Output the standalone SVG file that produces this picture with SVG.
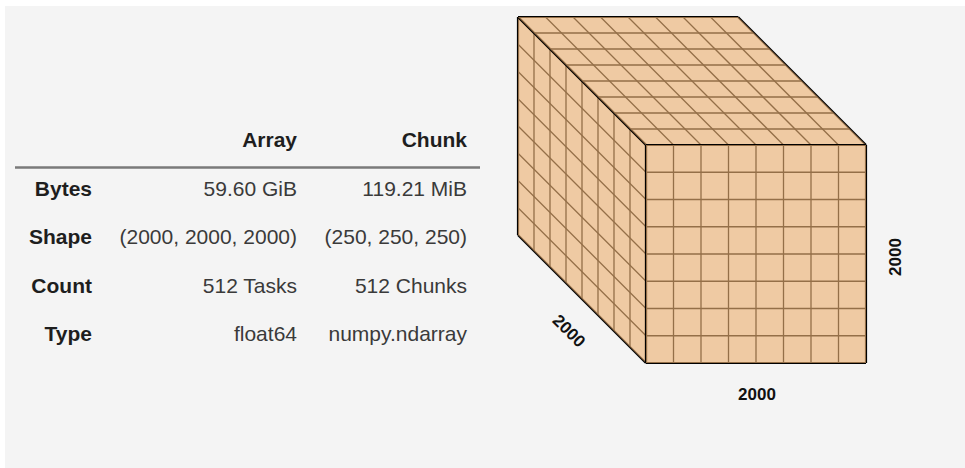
<svg xmlns="http://www.w3.org/2000/svg" width="965" height="468" viewBox="0 0 965 468">
<style>
  .bg { fill: #f4f4f4; }
  .lbl { font-family: "Liberation Sans", Arial, Helvetica, sans-serif; font-size: 21px; font-weight: bold; fill: #1e1e1e; text-anchor: end; }
  .val { font-family: "Liberation Sans", Arial, Helvetica, sans-serif; font-size: 21px; fill: #3a3a3a; text-anchor: end; }
  .rule { stroke: #7a7a7a; stroke-width: 2.5; }
  .e { stroke: #000; stroke-width: 2.2; }
  .g { stroke: #000; stroke-width: 1.3; }
  .f { fill: #ECB172; fill-opacity: 0.627; stroke: none; }
  .dim { font-family: "Liberation Sans", Arial, Helvetica, sans-serif; font-size: 17px; font-weight: bold; fill: #111; text-anchor: middle; }
</style>
<rect x="0" y="0" width="965" height="468" fill="#ffffff"/>
<rect class="bg" x="5" y="6" width="960" height="462"/>

<g id="table">
  <g id="header">
    <text class="lbl" x="297" y="147">Array</text>
    <text class="lbl" x="467" y="147">Chunk</text>
    <line class="rule" x1="15" y1="167.5" x2="480" y2="167.5"/>
  </g>
  <g id="row-bytes">
    <text class="lbl" x="92" y="196">Bytes</text>
    <text class="val" x="297" y="196">59.60 GiB</text>
    <text class="val" x="467" y="196">119.21 MiB</text>
  </g>
  <g id="row-shape">
    <text class="lbl" x="92" y="244">Shape</text>
    <text class="val" x="297" y="244">(2000, 2000, 2000)</text>
    <text class="val" x="467" y="244">(250, 250, 250)</text>
  </g>
  <g id="row-count">
    <text class="lbl" x="92" y="293">Count</text>
    <text class="val" x="297" y="293">512 Tasks</text>
    <text class="val" x="467" y="293">512 Chunks</text>
  </g>
  <g id="row-type">
    <text class="lbl" x="92" y="341">Type</text>
    <text class="val" x="297" y="341">float64</text>
    <text class="val" x="467" y="341">numpy.ndarray</text>
  </g>
</g>

<g id="cube">
  <g id="left-face">
    <line class="e" x1="518" y1="17" x2="646" y2="145"/>
    <line class="g" x1="518" y1="44.25" x2="646" y2="172.25"/>
    <line class="g" x1="518" y1="71.5" x2="646" y2="199.5"/>
    <line class="g" x1="518" y1="98.75" x2="646" y2="226.75"/>
    <line class="g" x1="518" y1="126" x2="646" y2="254"/>
    <line class="g" x1="518" y1="153.25" x2="646" y2="281.25"/>
    <line class="g" x1="518" y1="180.5" x2="646" y2="308.5"/>
    <line class="g" x1="518" y1="207.75" x2="646" y2="335.75"/>
    <line class="e" x1="518" y1="235" x2="646" y2="363"/>
    <line class="e" x1="518" y1="17" x2="518" y2="235"/>
    <line class="g" x1="534" y1="33" x2="534" y2="251"/>
    <line class="g" x1="550" y1="49" x2="550" y2="267"/>
    <line class="g" x1="566" y1="65" x2="566" y2="283"/>
    <line class="g" x1="582" y1="81" x2="582" y2="299"/>
    <line class="g" x1="598" y1="97" x2="598" y2="315"/>
    <line class="g" x1="614" y1="113" x2="614" y2="331"/>
    <line class="g" x1="630" y1="129" x2="630" y2="347"/>
    <line class="e" x1="646" y1="145" x2="646" y2="363"/>
    <polygon class="f" points="518,17 646,145 646,363 518,235"/>
  </g>
  <g id="top-face">
    <line class="e" x1="518" y1="17" x2="738" y2="17"/>
    <line class="g" x1="534" y1="33" x2="754" y2="33"/>
    <line class="g" x1="550" y1="49" x2="770" y2="49"/>
    <line class="g" x1="566" y1="65" x2="786" y2="65"/>
    <line class="g" x1="582" y1="81" x2="802" y2="81"/>
    <line class="g" x1="598" y1="97" x2="818" y2="97"/>
    <line class="g" x1="614" y1="113" x2="834" y2="113"/>
    <line class="g" x1="630" y1="129" x2="850" y2="129"/>
    <line class="e" x1="646" y1="145" x2="866" y2="145"/>
    <line class="e" x1="518" y1="17" x2="646" y2="145"/>
    <line class="g" x1="545.5" y1="17" x2="673.5" y2="145"/>
    <line class="g" x1="573" y1="17" x2="701" y2="145"/>
    <line class="g" x1="600.5" y1="17" x2="728.5" y2="145"/>
    <line class="g" x1="628" y1="17" x2="756" y2="145"/>
    <line class="g" x1="655.5" y1="17" x2="783.5" y2="145"/>
    <line class="g" x1="683" y1="17" x2="811" y2="145"/>
    <line class="g" x1="710.5" y1="17" x2="838.5" y2="145"/>
    <line class="e" x1="738" y1="17" x2="866" y2="145"/>
    <polygon class="f" points="518,17 738,17 866,145 646,145"/>
  </g>
  <g id="front-face">
    <line class="e" x1="646" y1="145" x2="866" y2="145"/>
    <line class="g" x1="646" y1="172.25" x2="866" y2="172.25"/>
    <line class="g" x1="646" y1="199.5" x2="866" y2="199.5"/>
    <line class="g" x1="646" y1="226.75" x2="866" y2="226.75"/>
    <line class="g" x1="646" y1="254" x2="866" y2="254"/>
    <line class="g" x1="646" y1="281.25" x2="866" y2="281.25"/>
    <line class="g" x1="646" y1="308.5" x2="866" y2="308.5"/>
    <line class="g" x1="646" y1="335.75" x2="866" y2="335.75"/>
    <line class="e" x1="646" y1="363" x2="866" y2="363"/>
    <line class="e" x1="646" y1="145" x2="646" y2="363"/>
    <line class="g" x1="673.5" y1="145" x2="673.5" y2="363"/>
    <line class="g" x1="701" y1="145" x2="701" y2="363"/>
    <line class="g" x1="728.5" y1="145" x2="728.5" y2="363"/>
    <line class="g" x1="756" y1="145" x2="756" y2="363"/>
    <line class="g" x1="783.5" y1="145" x2="783.5" y2="363"/>
    <line class="g" x1="811" y1="145" x2="811" y2="363"/>
    <line class="g" x1="838.5" y1="145" x2="838.5" y2="363"/>
    <line class="e" x1="866" y1="145" x2="866" y2="363"/>
    <polygon class="f" points="646,145 866,145 866,363 646,363"/>
  </g>
  <g id="dimension-labels">
    <text class="dim" x="757" y="400">2000</text>
    <text class="dim" x="901" y="257" transform="rotate(-90 901 257)">2000</text>
    <text class="dim" x="565" y="335" transform="rotate(45 565 335)">2000</text>
  </g>
</g>
</svg>
